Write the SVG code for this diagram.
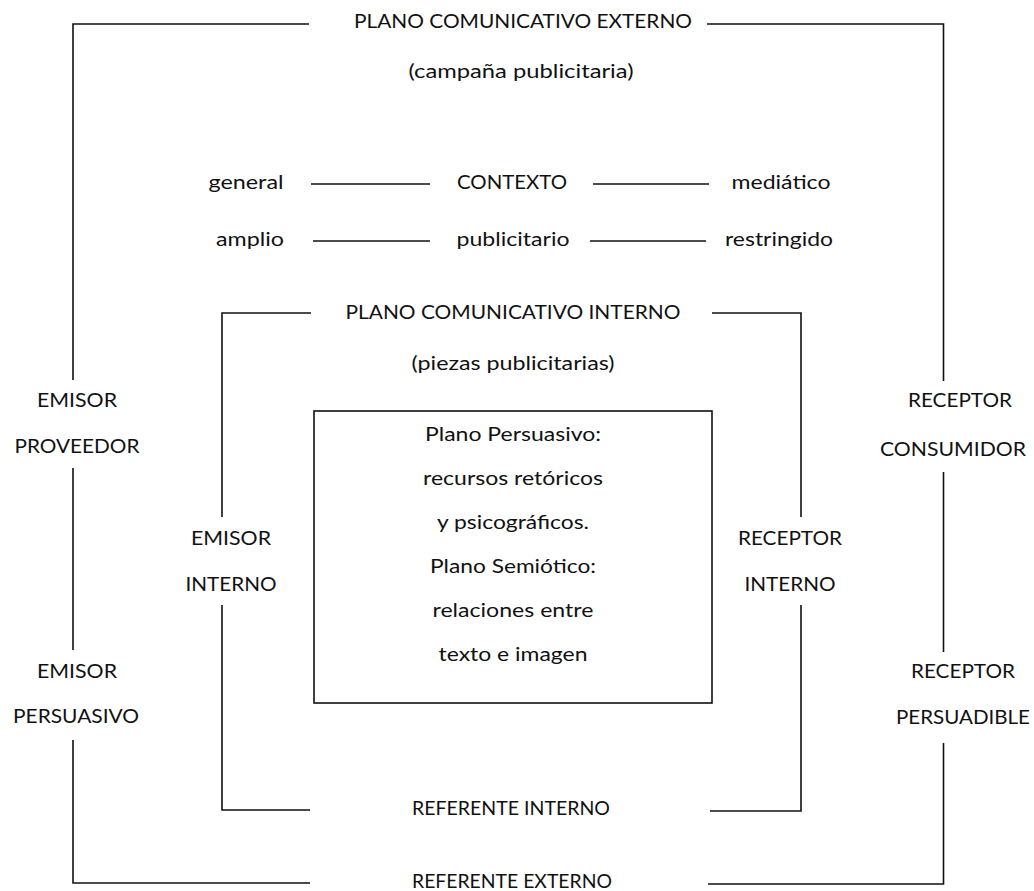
<svg xmlns="http://www.w3.org/2000/svg" width="1034" height="891" viewBox="0 0 1034 891">
  <style>
    text { font-family: Lato, "Liberation Sans", sans-serif; font-size: 19.5px; fill: #111; text-anchor: middle; }
    .ln { fill: none; stroke: #111; stroke-width: 1.6; stroke-linejoin: miter; }
  </style>
  <rect width="1034" height="891" fill="#fff"/>

  <!-- frame and context connectors -->
  <g id="connectors">
    <!-- outer plane -->
    <polyline class="ln" points="309,24 73,24 73,380"/>
    <polyline class="ln" points="707,24 943.5,24 943.5,381"/>
    <line class="ln" x1="73" y1="468" x2="73" y2="650"/>
    <polyline class="ln" points="73,740 73,883 310,883"/>
    <line class="ln" x1="943.5" y1="472" x2="943.5" y2="652"/>
    <polyline class="ln" points="943.5,743 943.5,884 708,884"/>
    <!-- inner plane -->
    <polyline class="ln" points="311,313 222,313 222,517"/>
    <polyline class="ln" points="712,313 801,313 801,517"/>
    <polyline class="ln" points="222,605 222,810 310,810"/>
    <polyline class="ln" points="801,605 801,811 710,811"/>
    <!-- context rows -->
    <line class="ln" x1="311" y1="184" x2="430" y2="184"/>
    <line class="ln" x1="593" y1="184" x2="709" y2="184"/>
    <line class="ln" x1="313" y1="241" x2="430" y2="241"/>
    <line class="ln" x1="590" y1="241" x2="706" y2="241"/>
  </g>

  <g id="plano-externo">
    <text x="523" y="28" textLength="338" lengthAdjust="spacingAndGlyphs">PLANO COMUNICATIVO EXTERNO</text>
    <text x="521" y="78" textLength="225" lengthAdjust="spacingAndGlyphs">(campaña publicitaria)</text>
  </g>

  <g id="contexto">
    <text x="246" y="189" textLength="75" lengthAdjust="spacingAndGlyphs">general</text>
    <text x="512" y="189" textLength="110" lengthAdjust="spacingAndGlyphs">CONTEXTO</text>
    <text x="781" y="189" textLength="99" lengthAdjust="spacingAndGlyphs">mediático</text>
    <text x="250" y="246" textLength="68" lengthAdjust="spacingAndGlyphs">amplio</text>
    <text x="513" y="246" textLength="113" lengthAdjust="spacingAndGlyphs">publicitario</text>
    <text x="779" y="246" textLength="108" lengthAdjust="spacingAndGlyphs">restringido</text>
  </g>

  <g id="plano-interno">
    <text x="513" y="319" textLength="335" lengthAdjust="spacingAndGlyphs">PLANO COMUNICATIVO INTERNO</text>
    <text x="513" y="370" textLength="203" lengthAdjust="spacingAndGlyphs">(piezas publicitarias)</text>
  </g>

  <g id="emisor-proveedor">
    <text x="77" y="407" textLength="80" lengthAdjust="spacingAndGlyphs">EMISOR</text>
    <text x="77" y="453" textLength="125" lengthAdjust="spacingAndGlyphs">PROVEEDOR</text>
  </g>

  <g id="emisor-persuasivo">
    <text x="77" y="678" textLength="80" lengthAdjust="spacingAndGlyphs">EMISOR</text>
    <text x="76" y="723" textLength="126" lengthAdjust="spacingAndGlyphs">PERSUASIVO</text>
  </g>

  <g id="emisor-interno">
    <text x="231" y="545" textLength="80" lengthAdjust="spacingAndGlyphs">EMISOR</text>
    <text x="231" y="591" textLength="91" lengthAdjust="spacingAndGlyphs">INTERNO</text>
  </g>

  <g id="receptor-consumidor">
    <text x="960" y="407" textLength="104" lengthAdjust="spacingAndGlyphs">RECEPTOR</text>
    <text x="953" y="456" textLength="146" lengthAdjust="spacingAndGlyphs">CONSUMIDOR</text>
  </g>

  <g id="receptor-persuadible">
    <text x="963" y="678" textLength="104" lengthAdjust="spacingAndGlyphs">RECEPTOR</text>
    <text x="963" y="724" textLength="134" lengthAdjust="spacingAndGlyphs">PERSUADIBLE</text>
  </g>

  <g id="receptor-interno">
    <text x="790" y="545" textLength="104" lengthAdjust="spacingAndGlyphs">RECEPTOR</text>
    <text x="790" y="591" textLength="91" lengthAdjust="spacingAndGlyphs">INTERNO</text>
  </g>

  <g id="planos-persuasivo-semiotico">
    <rect x="314" y="411" width="398" height="292" fill="none" stroke="#111" stroke-width="1.6"/>
    <text x="513" y="441" textLength="176" lengthAdjust="spacingAndGlyphs">Plano Persuasivo:</text>
    <text x="513" y="485" textLength="180" lengthAdjust="spacingAndGlyphs">recursos retóricos</text>
    <text x="513" y="529" textLength="152" lengthAdjust="spacingAndGlyphs">y psicográficos.</text>
    <text x="513" y="573" textLength="166" lengthAdjust="spacingAndGlyphs">Plano Semiótico:</text>
    <text x="513" y="617" textLength="161" lengthAdjust="spacingAndGlyphs">relaciones entre</text>
    <text x="513" y="661" textLength="149" lengthAdjust="spacingAndGlyphs">texto e imagen</text>
  </g>

  <g id="referente-interno">
    <text x="511" y="815" textLength="198" lengthAdjust="spacingAndGlyphs">REFERENTE INTERNO</text>
  </g>

  <g id="referente-externo">
    <text x="512" y="888" textLength="200" lengthAdjust="spacingAndGlyphs">REFERENTE EXTERNO</text>
  </g>
</svg>
